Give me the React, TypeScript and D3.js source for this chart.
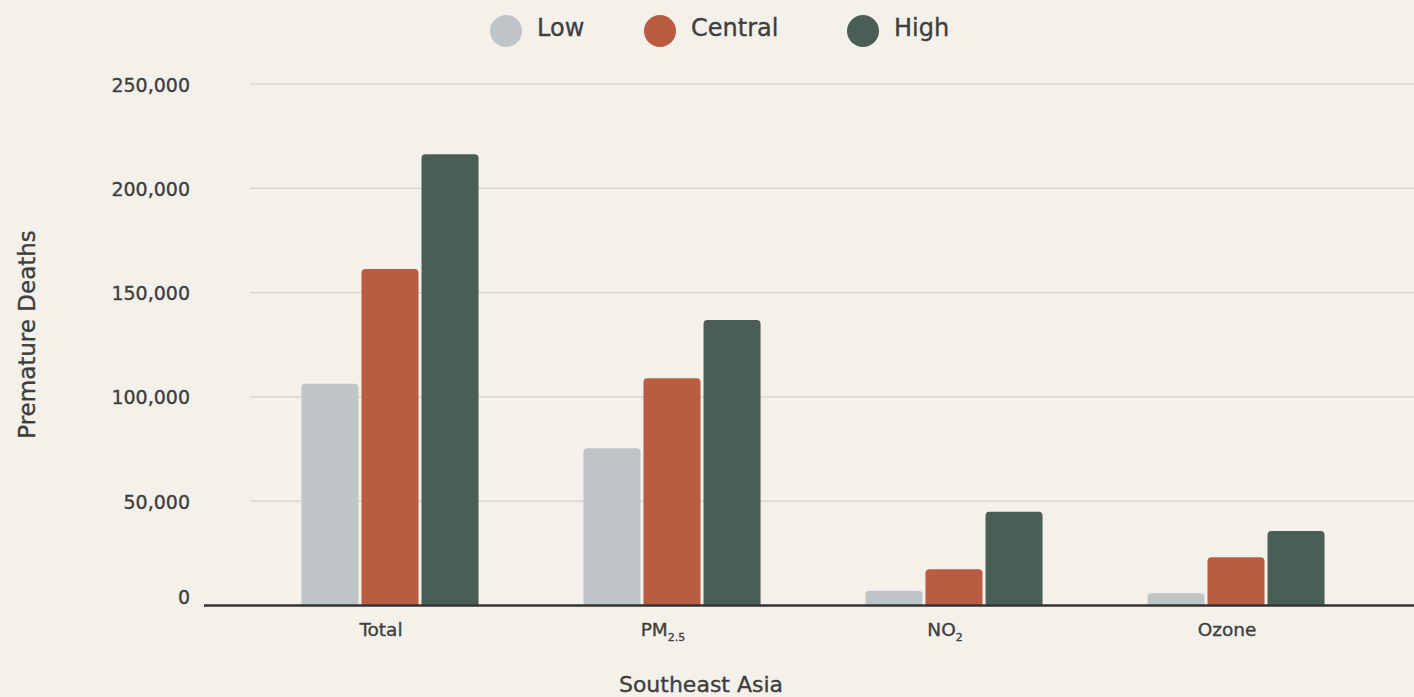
import React from "react";
import * as d3 from "d3";

const categories = ["Total", "PM2.5", "NO2", "Ozone"];
const categoryMain = ["Total", "PM", "NO", "Ozone"];
const categorySub = ["", "2.5", "2", ""];
const seriesNames = ["Low", "Central", "High"];
const lowValues = [106300, 75400, 7100, 5900];
const centralValues = [161300, 108900, 17400, 23100];
const highValues = [216300, 136900, 45000, 35700];
const yTicks = [0, 50000, 100000, 150000, 200000, 250000];
const colors = ["#bfc4c7", "#b85c42", "#4b5e55"];

const W = 1414;
const H = 697;
const FONT = "'DejaVu Sans', sans-serif";
const TEXT = "#3e3e3e";
const BG = "#f4f1eb";
const textStyle = { stroke: TEXT, strokeWidth: 0.35 } as const;

function topRoundedRect(x: number, y: number, w: number, h: number, r: number) {
  const rr = Math.min(r, h, w / 2);
  return `M${x},${y + h}V${y + rr}Q${x},${y} ${x + rr},${y}H${x + w - rr}Q${x + w},${y} ${x + w},${y + rr}V${y + h}Z`;
}

export default function App() {
  const series = [lowValues, centralValues, highValues];
  const y = d3.scaleLinear().domain([0, 250000]).range([605.5, 84]);
  const x = d3
    .scaleBand<string>()
    .domain(categories)
    .range([249, 1377])
    .paddingInner(0.372)
    .paddingOuter(0.186);
  const xi = d3
    .scaleBand<string>()
    .domain(seriesNames)
    .range([0, x.bandwidth()])
    .paddingInner(0.05);
  const fmt = d3.format(",");
  const legendX = [506, 660, 863];

  return (
    <svg
      width={W}
      height={H}
      style={{ position: "absolute", left: 0, top: 0, background: BG }}
    >
      <rect x={0} y={0} width={W} height={H} fill={BG} />
      {/* legend */}
      {seriesNames.map((s, i) => (
        <g key={s}>
          <circle cx={legendX[i]} cy={31} r={16} fill={colors[i]} />
          <text
            x={legendX[i] + 31}
            y={36}
            fontFamily={FONT}
            fontSize={24}
            fill={TEXT}
            style={textStyle}
          >
            {s}
          </text>
        </g>
      ))}
      {/* gridlines */}
      {yTicks
        .filter((t) => t > 0)
        .map((t) => (
          <line
            key={t}
            x1={250}
            x2={W}
            y1={y(t)}
            y2={y(t)}
            stroke="#d3d0ca"
            strokeWidth={1.2}
          />
        ))}
      {/* y tick labels */}
      {yTicks.map((t) => (
        <text
          key={t}
          x={190}
          y={t === 0 ? y(t) - 1.5 : y(t) + 7.5}
          textAnchor="end"
          fontFamily={FONT}
          fontSize={19}
          fill={TEXT}
          style={textStyle}
        >
          {fmt(t)}
        </text>
      ))}
      {/* bars */}
      {categories.map((c, ci) => (
        <g key={c} transform={`translate(${x(c)},0)`}>
          {series.map((vals, si) => {
            const bx = xi(seriesNames[si]) as number;
            const by = y(vals[ci]);
            return (
              <path
                key={si}
                d={topRoundedRect(bx, by, xi.bandwidth(), y(0) - by, 4)}
                fill={colors[si]}
              />
            );
          })}
        </g>
      ))}
      {/* axis line */}
      <line x1={204} x2={W} y1={y(0)} y2={y(0)} stroke="#333333" strokeWidth={2.5} />
      {/* x labels */}
      {categories.map((c, ci) => (
        <text
          key={c}
          x={(x(c) as number) + x.bandwidth() / 2 - 9}
          y={635.5}
          textAnchor="middle"
          fontFamily={FONT}
          fontSize={18.5}
          fill={TEXT}
          style={textStyle}
        >
          <tspan>{categoryMain[ci]}</tspan>
          {categorySub[ci] ? (
            <tspan fontSize={11} dy={5}>
              {categorySub[ci]}
            </tspan>
          ) : null}
        </text>
      ))}
      {/* axis titles */}
      <text
        x={701}
        y={692}
        textAnchor="middle"
        fontFamily={FONT}
        fontSize={22}
        fill={TEXT}
        style={textStyle}
      >
        Southeast Asia
      </text>
      <text
        transform={`translate(34.5,334.5) rotate(-90)`}
        textAnchor="middle"
        fontFamily={FONT}
        fontSize={23}
        fill={TEXT}
        style={textStyle}
      >
        Premature Deaths
      </text>
    </svg>
  );
}
